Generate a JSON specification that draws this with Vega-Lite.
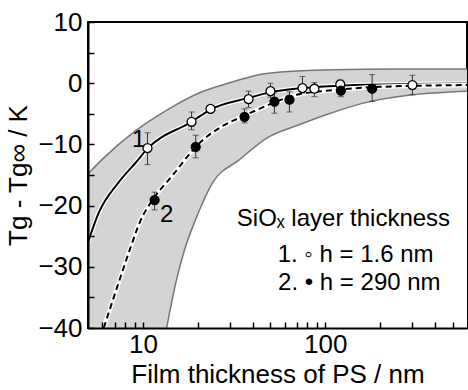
{
  "$schema": "https://vega.github.io/schema/vega-lite/v6.json",
  "width": 379,
  "height": 306,
  "autosize": "none",
  "padding": {"left": 88, "top": 22, "right": 1, "bottom": 62},
  "background": "white",
  "config": {
    "font": "Liberation Sans",
    "view": {"stroke": "black", "strokeWidth": 2},
    "axis": {"domainColor": "black", "domainWidth": 2, "tickColor": "black", "tickWidth": 1.5, "labelFont": "Liberation Sans", "titleFont": "Liberation Sans", "labelFontSize": 26, "titleFontSize": 26, "labelColor": "black", "titleColor": "black", "titleFontWeight": "normal", "grid": false}
  },
  "datasets": {
    "hi": [{"t":5,"v":-14.8},{"t":6,"v":-12.4},{"t":9.1,"v":-7.8},{"t":13.9,"v":-4.2},{"t":20.3,"v":-1.6},{"t":31,"v":0.2},{"t":47.6,"v":1.6},{"t":111,"v":2.2},{"t":250,"v":2.3},{"t":600,"v":2.3}],
    "lo": [{"t":13.5,"v":-40},{"t":15.3,"v":-32.1},{"t":16.9,"v":-27.3},{"t":19.7,"v":-21.9},{"t":24.1,"v":-16.3},{"t":33.9,"v":-12.5},{"t":47.6,"v":-9.0},{"t":72,"v":-6.8},{"t":105,"v":-5.0},{"t":160,"v":-3.3},{"t":300,"v":-1.9},{"t":600,"v":-1.3}],
    "c1": [{"t":5.0,"v":-26.0},{"t":5.72,"v":-21.2},{"t":7.36,"v":-16.2},{"t":9.12,"v":-13.0},{"t":10.6,"v":-10.7},{"t":18.5,"v":-6.3},{"t":23.5,"v":-4.3},{"t":38,"v":-2.4},{"t":50,"v":-1.5},{"t":75,"v":-0.8},{"t":120,"v":-0.4},{"t":300,"v":-0.15},{"t":600,"v":-0.05}],
    "c2": [{"t":6.1,"v":-40},{"t":7.36,"v":-32.6},{"t":8.57,"v":-26.8},{"t":9.72,"v":-22.4},{"t":11.0,"v":-19.6},{"t":14.6,"v":-15.0},{"t":20.4,"v":-9.8},{"t":26.3,"v":-7.3},{"t":36.1,"v":-5.3},{"t":42,"v":-4.4},{"t":72,"v":-1.8},{"t":105,"v":-1.2},{"t":200,"v":-0.6},{"t":600,"v":-0.3}],
    "pts": [
      {"s":"open","t":10.6,"v":-10.6,"lo":-13.3,"hi":-8.1},
      {"s":"open","t":18.5,"v":-6.3,"lo":-7.6,"hi":-4.7},
      {"s":"open","t":23.5,"v":-4.2,"lo":-4.2,"hi":-4.2},
      {"s":"open","t":38.0,"v":-2.6,"lo":-4.0,"hi":-1.3},
      {"s":"open","t":50.1,"v":-1.3,"lo":-2.3,"hi":0.0},
      {"s":"open","t":75.1,"v":-0.8,"lo":-1.6,"hi":1.1},
      {"s":"open","t":87.3,"v":-0.9,"lo":-2.2,"hi":0.1},
      {"s":"open","t":121,"v":-0.2,"lo":-1.2,"hi":0.5},
      {"s":"open","t":301,"v":-0.3,"lo":-1.9,"hi":1.3},
      {"s":"filled","t":11.6,"v":-19.1,"lo":-20.7,"hi":-17.8},
      {"s":"filled","t":19.5,"v":-10.4,"lo":-12.2,"hi":-8.5},
      {"s":"filled","t":36.1,"v":-5.5,"lo":-6.5,"hi":-4.2},
      {"s":"filled","t":52.7,"v":-3.0,"lo":-4.9,"hi":-1.6},
      {"s":"filled","t":63.7,"v":-2.7,"lo":-4.7,"hi":-1.4},
      {"s":"filled","t":122,"v":-1.2,"lo":-2.2,"hi":-0.3},
      {"s":"filled","t":181,"v":-0.9,"lo":-3.0,"hi":1.4}
    ],
    "txt": [
      {"t":9.47,"v":-9.3,"label":"1"},
      {"t":13.5,"v":-21.5,"label":"2"},
      {"t":126,"v":-22.2,"label":"SiOₓ layer thickness"},
      {"t":147,"v":-28.1,"label":"1. ◦ h = 1.6 nm"},
      {"t":154,"v":-32.6,"label":"2. • h = 290 nm"}
    ]
  },
  "encoding": {
    "x": {"field": "t", "type": "quantitative", "scale": {"type": "log", "domain": [5, 600], "nice": false},
      "axis": {"title": "Film thickness of PS / nm", "zindex": 2, "values": [6,7,8,9,10,20,30,40,50,60,70,80,90,100,200,300,400,500], "labelExpr": "(datum.value==10||datum.value==100)?format(datum.value,'d'):''", "labelOverlap": false, "labelFlush": false, "tickSize": -6, "labelPadding": 9, "titlePadding": 4}},
    "y": {"field": "v", "type": "quantitative", "scale": {"domain": [-40, 10], "nice": false},
      "axis": {"title": "Tg - Tg∞ / K", "zindex": 2, "values": [-40,-35,-30,-25,-20,-15,-10,-5,0,5,10], "labelExpr": "datum.value % 10 == 0 ? format(datum.value,'d') : ''", "labelOverlap": false, "labelFlush": false, "tickSize": -6, "labelPadding": 12, "titlePadding": 6}}
  },
  "layer": [
    {"data": {"name": "hi"}, "mark": {"type": "area", "color": "#d4d4d4", "interpolate": "monotone", "clip": true}, "encoding": {"y2": {"datum": -40}}},
    {"data": {"name": "lo"}, "mark": {"type": "area", "color": "white", "interpolate": "monotone", "clip": true}, "encoding": {"y2": {"datum": -40}}},
    {"data": {"name": "hi"}, "mark": {"type": "line", "color": "#777777", "strokeWidth": 1.5, "interpolate": "monotone", "clip": true}, "encoding": {}},
    {"data": {"name": "lo"}, "mark": {"type": "line", "color": "#777777", "strokeWidth": 1.5, "interpolate": "monotone", "clip": true}, "encoding": {}},
    {"data": {"name": "c1"}, "mark": {"type": "line", "color": "white", "strokeWidth": 4.5, "interpolate": "monotone", "clip": true}, "encoding": {}},
    {"data": {"name": "c1"}, "mark": {"type": "line", "color": "black", "strokeWidth": 2, "interpolate": "monotone", "clip": true}, "encoding": {}},
    {"data": {"name": "c2"}, "mark": {"type": "line", "color": "white", "strokeWidth": 4.5, "interpolate": "monotone", "clip": true}, "encoding": {}},
    {"data": {"name": "c2"}, "mark": {"type": "line", "color": "black", "strokeWidth": 2, "strokeDash": [6, 4], "interpolate": "monotone", "clip": true}, "encoding": {}},
    {"data": {"name": "pts"}, "mark": {"type": "rule", "color": "#333333", "strokeWidth": 1}, "encoding": {"y": {"field": "lo", "type": "quantitative"}, "y2": {"field": "hi"}}},
    {"data": {"name": "pts"}, "mark": {"type": "tick", "color": "#333333", "orient": "horizontal", "size": 6, "thickness": 1}, "encoding": {"y": {"field": "lo", "type": "quantitative"}}},
    {"data": {"name": "pts"}, "mark": {"type": "tick", "color": "#333333", "orient": "horizontal", "size": 6, "thickness": 1}, "encoding": {"y": {"field": "hi", "type": "quantitative"}}},
    {"data": {"name": "pts"}, "mark": {"type": "point", "shape": "circle", "size": 80, "stroke": "black", "strokeWidth": 1.3, "filled": true, "opacity": 1},
      "encoding": {"fill": {"field": "s", "type": "nominal", "scale": {"domain": ["open", "filled"], "range": ["white", "black"]}, "legend": null}}},
    {"data": {"name": "txt"}, "mark": {"type": "text", "fontSize": 24, "align": "center", "baseline": "middle", "color": "black", "font": "Liberation Sans"}, "encoding": {"text": {"field": "label"}}}
  ]
}
